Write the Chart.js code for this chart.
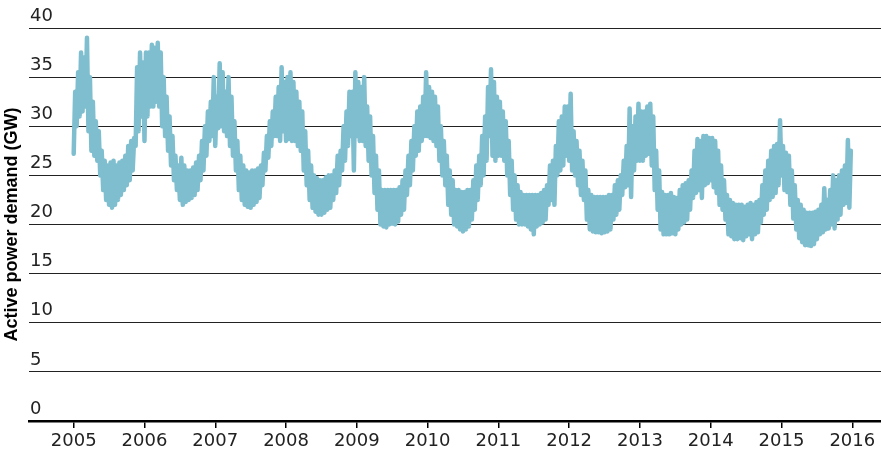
<!DOCTYPE html>
<html>
<head>
<meta charset="utf-8">
<script src="https://cdn.jsdelivr.net/npm/chart.js@4"></script>
<style>
  html, body { margin: 0; padding: 0; background: #fff; }
</style>
</head>
<body>
<canvas id="demandChart" width="881" height="451"></canvas>
<script>
// tick labels
const yearTicks = [2005, 2006, 2007, 2008, 2009, 2010, 2011, 2012, 2013, 2014, 2015, 2016];
const gwTicks = [0, 5, 10, 15, 20, 25, 30, 35, 40];
const startYear = 2005;

// half-month highs and lows (GW), one row per year
const peakGW = [
  33.5,35.5,37.5,37,39,35,32.5,30.5,29.5,27.5,26.5,26,26.3,26.5,26,26.3,26.5,27,28,28.5,28.8,36,37.5,36.5,
  37.5,37.5,38.3,38,38.5,37.5,35,33,31,29,27,26,26.8,26,25.5,25.5,25.8,26.3,27,28.5,30,31.5,32.5,35,
  33,36.4,35.5,33.5,35,33,30.5,28.5,27,26,25.5,25.3,25.5,25.5,25.7,26,27.3,29,30.5,31.5,33,34,36,34.5,
  35,35.5,34.5,33.5,32.5,31.5,29.5,27.5,26,25,24.7,24.5,24.5,24.8,25,25,25.5,27,27.5,30,31.5,33.5,33.5,35.5,
  34.5,34,35,32,31,29,27,25.5,23.5,23.5,23.5,23.5,23.5,23.5,23.8,24.5,25.5,27,28.5,30,31.5,32,33,35.5,
  34,33.5,33,32,30,28.5,27,25.5,24.5,23.5,23.5,23.3,23.3,23.5,23.5,24.5,26,27,29,31,34,35.8,34.5,33,
  32.5,31.5,30.5,28.5,26.5,25,24,23.3,23,23,23,23,23,23,23.2,23.5,24,26,26.5,28,30.5,31,32,32,
  33.3,29.5,28.5,27.5,26.5,25.5,23.5,23,22.8,22.8,22.8,22.8,22.8,23,23,24,24.5,25,26.5,28,31.8,30,31,32.3,
  31.5,31.5,32,32.3,31,27.5,25.5,23.3,23,23,23.2,22.8,22.7,23.5,24,24.2,24.5,25.5,27.5,28.7,28.5,29,29,28.8,
  28.8,28.5,27.5,26,24.5,23,22.5,22.2,22,22,22,21.8,22,22.2,22,22.3,22.5,24,25.5,26.5,27.5,28,28.2,30.6,
  28,27.3,27,25.5,24,22.5,22,21.5,21.2,21.2,21.2,21.3,21.5,22,23.7,22.5,23.5,25,24.5,25,25.5,26,28.6,27.5
];
const troughGW = [
  27.2,30,31,31.5,32,29.5,27.5,27,26.5,25,23.5,22.5,22,21.7,22,22.5,23,23.5,24,24.5,25.5,28,29.5,31,
  28.5,31,32,32,32.5,32,30,29,27.5,26,24.5,23.5,22.5,22,22.3,22.5,22.7,23,23.5,24.5,25.5,27,28.5,29,
  28,29.8,30,29.5,29,28,27,25.5,23.5,22.5,22,21.8,21.7,22,22.3,22.7,24,25.5,26.8,28,29,29,28.5,29.5,
  28.5,28.7,28.5,28.5,28,27.5,25.5,24,22.5,21.7,21.3,21,21,21.2,21.5,21.7,22.5,23.2,24,25.5,26.5,28,29,25.5,
  29,28.5,28.5,28,26.5,25,23.2,21.5,20,19.8,19.7,20,20.1,20,20.3,21,21.5,23,24,25.5,27,27.5,28.5,29,
  29,28.8,28.5,28,26.5,25,24,22,21,20,19.8,19.5,19.3,19.5,19.8,20.5,21.5,22.5,24,25,26.5,29,27,26.5,
  27,27,26.5,25,23,21.5,20.5,20,20,20,19.8,19.5,19,19.8,20,20.2,20.5,22,22.5,22,25,25.5,26,27,
  26.5,25.5,25,24,23,22.5,20.5,19.5,19.3,19.2,19.2,19.1,19.2,19.3,19.5,20.5,21,21.5,23,23.8,24,22.8,25.5,26.5,
  26.5,26.5,27,27.2,26,23.5,21.5,19.5,19,19,19,19.1,19,19.5,20,20.2,20.5,21.5,22.7,23.2,23.5,22.7,24,24.2,
  24.5,23.8,23.2,22,21.5,20.5,19,18.8,18.5,18.5,18.6,18.4,18.8,19,18.5,19,19.2,20.2,21,21.5,22.5,22.8,23.2,24,
  25,23.5,23.3,22,20.6,19.5,18.6,18.2,17.9,17.9,17.8,18,18.5,19,19.2,19.5,19.6,20,19.6,20.5,21,22,22.2,21.7
];

// zigzag low/high within each half month to get the thick daily band
let points = [];
for (let i = 0; i < peakGW.length; i++) {
  let t = startYear + i / 24;
  points.push({x: t, y: troughGW[i]});
  points.push({x: t + 1 / 48, y: peakGW[i]});
}

const tickFont = {family: "'DejaVu Sans', sans-serif", size: 18};

new Chart(document.getElementById('demandChart'), {
  type: 'line',
  data: {
    datasets: [{
      data: points,
      borderColor: '#7fbecf',
      borderWidth: 4.5,
      borderJoinStyle: 'round',
      borderCapStyle: 'round',
      pointRadius: 0,
      tension: 0,
      fill: false
    }]
  },
  options: {
    responsive: false,
    animation: false,
    devicePixelRatio: 1,
    layout: {padding: {top: 28, left: 0, right: 0, bottom: 0}},
    plugins: {legend: {display: false}, tooltip: {enabled: false}},
    scales: {
      x: {
        type: 'linear',
        min: 2004.3685,
        max: 2016.4055,
        afterBuildTicks: s => { s.ticks = yearTicks.map(v => ({value: v})); },
        afterFit: s => { s.height = 30; },
        ticks: {
          font: tickFont, color: '#222', padding: 3, maxRotation: 0, autoSkip: false,
          callback: v => String(v)
        },
        grid: {drawOnChartArea: false, drawTicks: true, tickLength: 7, color: '#000', lineWidth: 1.5},
        border: {display: true, color: '#000', width: 2.5}
      },
      y: {
        min: 0,
        max: 40,
        afterBuildTicks: s => { s.ticks = gwTicks.map(v => ({value: v})); },
        afterFit: s => { s.width = 29; },
        ticks: {mirror: true, padding: 1, labelOffset: -12, font: tickFont, color: '#222'},
        grid: {color: '#222', lineWidth: 1, drawTicks: false},
        border: {display: false},
        title: {
          display: true,
          text: 'Active power demand (GW)',
          color: '#000',
          font: {family: "'Liberation Sans', Arial, sans-serif", size: 18, weight: 'bold'},
          padding: {top: 1, bottom: 0}
        }
      }
    }
  }
});
</script>
</body>
</html>
